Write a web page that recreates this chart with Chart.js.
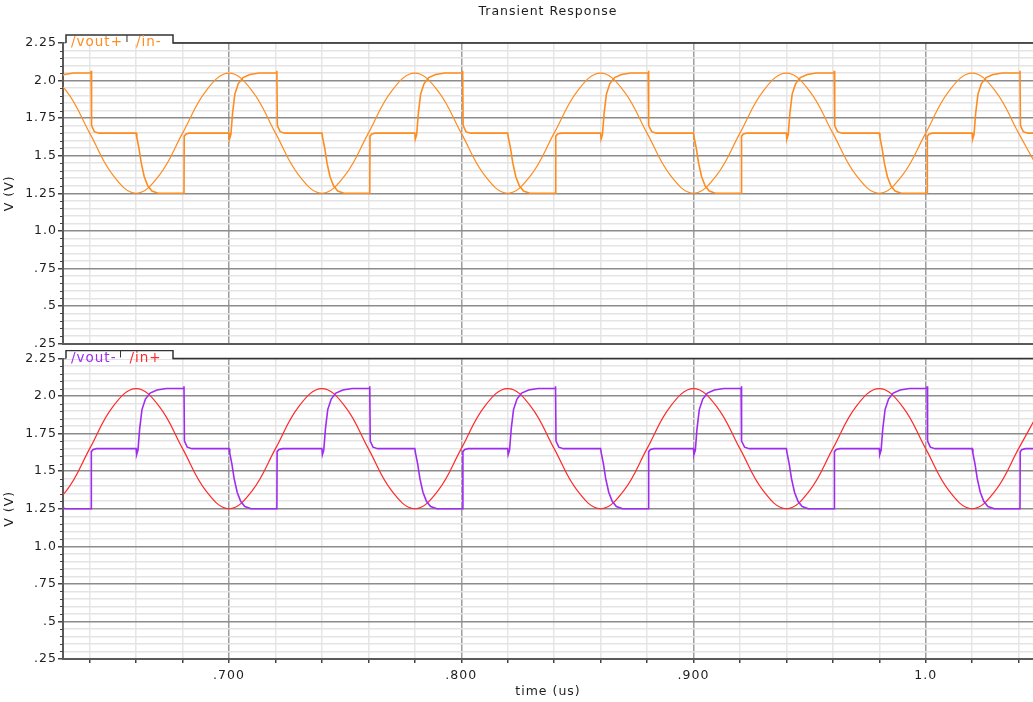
<!DOCTYPE html>
<html>
<head>
<meta charset="utf-8">
<title>Transient Response</title>
<script src="https://cdn.jsdelivr.net/npm/chart.js@4.4.1/dist/chart.umd.min.js"></script>
<style>
  html, body { margin: 0; padding: 0; background: #fff; }
  #wrap { position: relative; width: 1033px; height: 702px; overflow: hidden; }
  #wrap canvas { position: absolute; left: 0; }
  #topPanel { top: 0; }
  #bottomPanel { top: 350px; }
</style>
</head>
<body>
<div id="wrap">
  <canvas id="topPanel" width="1033" height="352"></canvas>
  <canvas id="bottomPanel" width="1033" height="352"></canvas>
</div>
<script>
// ---- axes ----
const timeMin = 0.6285;   // us
const timeMax = 1.0462;
const timeStep = 0.02;
const voltMin = 0.25;     // V
const voltMax = 2.25;
const voltStep = 0.05;

// ---- input sines, sampled every 10 ns ----
const sineTime = [0.62, 0.63, 0.64, 0.65, 0.66, 0.67, 0.68, 0.69, 0.70, 0.71, 0.72,
  0.73, 0.74, 0.75, 0.76, 0.77, 0.78, 0.79, 0.80, 0.81, 0.82, 0.83, 0.84, 0.85, 0.86,
  0.87, 0.88, 0.89, 0.90, 0.91, 0.92, 0.93, 0.94, 0.95, 0.96, 0.97, 0.98, 0.99, 1.00,
  1.01, 1.02, 1.03, 1.04, 1.05];
const inMinus = [2.05, 1.93, 1.65, 1.37, 1.25, 1.37, 1.65, 1.93, 2.05, 1.93, 1.65,
  1.37, 1.25, 1.37, 1.65, 1.93, 2.05, 1.93, 1.65, 1.37, 1.25, 1.37, 1.65, 1.93, 2.05,
  1.93, 1.65, 1.37, 1.25, 1.37, 1.65, 1.93, 2.05, 1.93, 1.65, 1.37, 1.25, 1.37, 1.65,
  1.93, 2.05, 1.93, 1.65, 1.37];
const inPlus = [1.25, 1.37, 1.65, 1.93, 2.05, 1.93, 1.65, 1.37, 1.25, 1.37, 1.65,
  1.93, 2.05, 1.93, 1.65, 1.37, 1.25, 1.37, 1.65, 1.93, 2.05, 1.93, 1.65, 1.37, 1.25,
  1.37, 1.65, 1.93, 2.05, 1.93, 1.65, 1.37, 1.25, 1.37, 1.65, 1.93, 2.05, 1.93, 1.65,
  1.37, 1.25, 1.37, 1.65, 1.93];

// ---- output edge shapes: [offset from edge (us), volts] ----
const curveUpShape = [[0, 1.65], [0.0002, 1.61], [0.0008, 1.64], [0.0015, 1.78],
  [0.0025, 1.91], [0.004, 1.98], [0.006, 2.02], [0.009, 2.04], [0.013, 2.05]];
const curveDownShape = [[0, 1.65], [0.0003, 1.62], [0.0012, 1.55], [0.0022, 1.45],
  [0.0035, 1.36], [0.005, 1.30], [0.0068, 1.265], [0.0095, 1.25]];
const stepDownShape = [[0.0005, 2.05], [0.0006, 2.065], [0.0008, 1.70], [0.002, 1.66], [0.004, 1.65]];
const stepUpShape = [[0.0006, 1.25], [0.0007, 1.63], [0.0015, 1.645], [0.003, 1.65]];

// ---- edge times (us) ----
const voutPlusCurveUp = [0.620, 0.700, 0.780, 0.860, 0.940, 1.020];
const voutPlusStepDown = [0.640, 0.720, 0.800, 0.880, 0.960, 1.040];
const voutPlusCurveDown = [0.660, 0.740, 0.820, 0.900, 0.980];
const voutPlusStepUp = [0.680, 0.760, 0.840, 0.920, 1.000];

const voutMinusCurveDown = [0.620, 0.700, 0.780, 0.860, 0.940, 1.020];
const voutMinusStepUp = [0.640, 0.720, 0.800, 0.880, 0.960, 1.040];
const voutMinusCurveUp = [0.660, 0.740, 0.820, 0.900, 0.980];
const voutMinusStepDown = [0.680, 0.760, 0.840, 0.920, 1.000];

const waveEnd = 1.05;

const ORANGE = '#ff8c1f';
const RED = '#ff2a2a';
const PURPLE = '#a02cf0';
const TEXT = '#1e1e1e';

Chart.defaults.font.family = '"DejaVu Sans", sans-serif';
Chart.defaults.font.size = 12.5;
Chart.defaults.color = TEXT;

// place the edge shapes at their times and hold the level between them
function buildWave(groups, endTime) {
  const pts = [];
  groups.forEach(([times, shape]) => {
    times.forEach(t0 => shape.forEach(([dt, v]) => pts.push({ x: t0 + dt, y: v })));
  });
  pts.sort((a, b) => a.x - b.x);
  pts.push({ x: endTime, y: pts[pts.length - 1].y });
  return pts;
}

const toPoints = (xs, ys) => xs.map((x, i) => ({ x, y: ys[i] }));
const onStep = (v, step) => Math.abs(v / step - Math.round(v / step)) < 1e-6;

function fmtVolt(v) {
  if (onStep(v, 1)) return v.toFixed(1);
  const s = String(+v.toFixed(2));
  return v < 1 ? s.replace(/^0/, '') : s;
}
function fmtTime(v) {
  return v < 1 ? v.toFixed(3).slice(1) : v.toFixed(1);
}

// legend tab, panel top line, short minor ticks and title
const panelFrame = {
  id: 'panelFrame',
  beforeDraw(chart) {
    chart.ctx.letterSpacing = '1px';
  },
  afterDraw(chart, args, opts) {
    const { ctx, chartArea: a } = chart;
    const yScale = chart.scales.y;
    ctx.save();

    // minor ticks on the voltage axis are shorter
    ctx.strokeStyle = '#444';
    ctx.lineWidth = 1.2;
    ctx.beginPath();
    yScale.ticks.forEach(t => {
      if (onStep(t.value, 0.25)) return;
      const py = Math.round(yScale.getPixelForValue(t.value)) + 0.5;
      ctx.moveTo(a.left - 3, py);
      ctx.lineTo(a.left, py);
    });
    ctx.stroke();

    const tabL = 66, tabR = 173, tabT = a.top - 8;
    ctx.fillStyle = '#fff';
    ctx.fillRect(tabL, tabT, tabR - tabL, 9);
    ctx.strokeStyle = '#333';
    ctx.lineWidth = 1.5;
    ctx.beginPath();
    ctx.moveTo(tabL, a.top);
    ctx.lineTo(tabL, tabT);
    ctx.lineTo(tabR, tabT);
    ctx.lineTo(tabR, a.top);
    ctx.lineTo(a.right, a.top);
    ctx.stroke();

    ctx.font = '13.5px "DejaVu Sans"';
    ctx.textBaseline = 'alphabetic';
    let x = tabL + 5;
    chart.data.datasets.forEach((ds, i) => {
      if (i > 0) {
        // small separator between entries
        ctx.strokeStyle = '#333';
        ctx.lineWidth = 1;
        ctx.beginPath();
        ctx.moveTo(x - 9, tabT);
        ctx.lineTo(x - 9, tabT + 7);
        ctx.stroke();
      }
      ctx.fillStyle = ds.borderColor;
      ctx.fillText(ds.label, x, a.top + 3);
      x += ctx.measureText(ds.label).width + 13;
    });

    if (opts.title) {
      ctx.font = '12.5px "DejaVu Sans"';
      ctx.fillStyle = TEXT;
      ctx.textAlign = 'center';
      ctx.textBaseline = 'middle';
      ctx.fillText(opts.title, (a.left + a.right) / 2, 12);
    }
    ctx.restore();
  }
};

function makePanel(canvasId, datasets, opts) {
  const showTime = opts.showTime;
  return new Chart(document.getElementById(canvasId), {
    type: 'line',
    data: { datasets },
    plugins: [panelFrame],
    options: {
      responsive: false,
      animation: false,
      devicePixelRatio: 1,
      layout: { padding: opts.padding },
      elements: { point: { radius: 0 } },
      plugins: {
        legend: { display: false },
        tooltip: { enabled: false },
        panelFrame: { title: opts.title }
      },
      scales: {
        x: {
          type: 'linear',
          min: timeMin,
          max: timeMax,
          afterFit: s => { s.height = showTime ? 43 : 0; },
          ticks: {
            display: showTime,
            stepSize: timeStep,
            autoSkip: false,
            includeBounds: false,
            maxRotation: 0,
            padding: 5,
            callback: v => onStep(v, 0.1) ? fmtTime(v) : ''
          },
          grid: {
            color: c => onStep(c.tick.value, 0.1) ? '#9e9e9e' : '#e6e6e6',
            lineWidth: 1.5,
            drawTicks: showTime,
            tickLength: 4,
            tickColor: '#444'
          },
          border: { color: '#5a5a5a', width: 2 },
          title: {
            display: showTime,
            text: 'time (us)',
            padding: { top: 0, bottom: 3 }
          }
        },
        y: {
          type: 'linear',
          min: voltMin,
          max: voltMax,
          afterFit: s => { s.width = 63; },
          ticks: {
            stepSize: voltStep,
            autoSkip: false,
            includeBounds: false,
            padding: 1,
            callback: v => onStep(v, 0.25) ? fmtVolt(v) : ''
          },
          grid: {
            color: c => onStep(c.tick.value, 0.25) ? '#8c8c8c' : '#e4e4e4',
            lineWidth: 1.5,
            tickLength: 5,
            tickColor: c => onStep(c.tick.value, 0.25) ? '#444' : 'rgba(0,0,0,0)'
          },
          border: { color: '#5a5a5a', width: 2 },
          title: {
            display: true,
            text: 'V (V)',
            padding: { top: 2, bottom: 0 }
          }
        }
      }
    }
  });
}

const voutPlus = buildWave([
  [voutPlusCurveUp, curveUpShape],
  [voutPlusStepDown, stepDownShape],
  [voutPlusCurveDown, curveDownShape],
  [voutPlusStepUp, stepUpShape]
], waveEnd);

const voutMinus = buildWave([
  [voutMinusCurveDown, curveDownShape],
  [voutMinusStepUp, stepUpShape],
  [voutMinusCurveUp, curveUpShape],
  [voutMinusStepDown, stepDownShape]
], waveEnd);

const stepStyle = { borderWidth: 1.6, tension: 0 };
const sineStyle = { borderWidth: 1.2, tension: 0.4 };

makePanel('topPanel', [
  { label: '/vout+', data: voutPlus, borderColor: ORANGE, ...stepStyle },
  { label: '/in-', data: toPoints(sineTime, inMinus), borderColor: ORANGE, ...sineStyle }
], { showTime: false, title: 'Transient Response', padding: { top: 43, right: 0, bottom: 7, left: 0 } });

makePanel('bottomPanel', [
  { label: '/vout-', data: voutMinus, borderColor: PURPLE, ...stepStyle },
  { label: '/in+', data: toPoints(sineTime, inPlus), borderColor: RED, ...sineStyle }
], { showTime: true, title: '', padding: { top: 8, right: 0, bottom: 0, left: 0 } });
</script>
</body>
</html>
